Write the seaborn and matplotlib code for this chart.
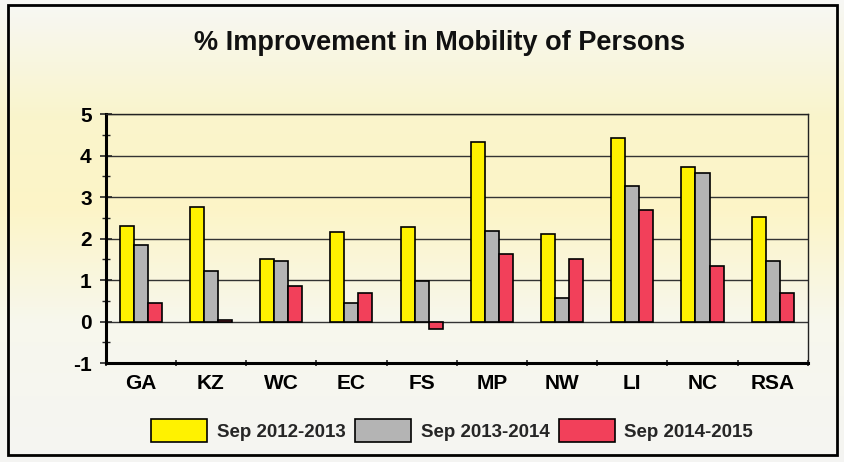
import matplotlib
matplotlib.use("Agg")
import matplotlib.pyplot as plt
import numpy as np
import pandas as pd
import seaborn as sns
from matplotlib.patches import Rectangle, Patch

# Data
regions = ["GA", "KZ", "WC", "EC", "FS", "MP", "NW", "LI", "NC", "RSA"]
periods = ["Sep 2012-2013", "Sep 2013-2014", "Sep 2014-2015"]
sep_2012_2013 = [2.30, 2.75, 1.50, 2.15, 2.28, 4.33, 2.12, 4.42, 3.72, 2.52]
sep_2013_2014 = [1.85, 1.22, 1.45, 0.45, 0.97, 2.18, 0.58, 3.27, 3.58, 1.47]
sep_2014_2015 = [0.45, 0.05, 0.86, 0.68, -0.17, 1.63, 1.52, 2.68, 1.33, 0.68]
colors = ["#FFF200", "#B4B4B4", "#F2405A"]

df = pd.DataFrame({
    "Region": regions * 3,
    "Period": [periods[0]] * 10 + [periods[1]] * 10 + [periods[2]] * 10,
    "Value": sep_2012_2013 + sep_2013_2014 + sep_2014_2015,
})

sns.set_theme(style="white")
plt.rcParams["font.family"] = ["Liberation Sans", "DejaVu Sans"]
plt.rcParams["axes.unicode_minus"] = False

fig = plt.figure(figsize=(8.45, 4.62), dpi=100)
fig.patch.set_facecolor("#F6F6F4")

# Soft yellow background band
bg = fig.add_axes([0, 0, 1, 1], zorder=0)
stops = [0.00, 0.25, 0.45, 0.70, 1.00]
stop_cols = [(0.97, 0.97, 0.96), (0.98, 0.96, 0.80), (0.99, 0.96, 0.78),
             (0.97, 0.97, 0.93), (0.96, 0.96, 0.95)]
ys = np.linspace(0, 1, 200)
img = np.zeros((200, 1, 3))
for c in range(3):
    img[:, 0, c] = np.interp(ys, stops, [col[c] for col in stop_cols])
bg.imshow(img, aspect="auto", extent=[0, 1, 1, 0])
bg.axis("off")

ax = fig.add_axes([0.125, 0.214, 0.831, 0.539], zorder=1)
ax.patch.set_alpha(0)

sns.barplot(data=df, x="Region", y="Value", hue="Period", palette=colors,
            saturation=1, width=0.6, edgecolor="black", linewidth=1.2, ax=ax,
            legend=False, zorder=3)

ax.set_ylim(-1, 5)
ax.set_xlim(-0.5, 9.5)
ax.set_yticks(range(-1, 6))
ax.set_yticks(np.arange(-0.5, 5, 1), minor=True)
ax.yaxis.grid(True, color="#333333", linewidth=1.0, zorder=0)
ax.set_axisbelow(True)
ax.set_xlabel("")
ax.set_ylabel("")

ax.set_xticks(np.arange(-0.5, 10, 1), minor=True)
ax.tick_params(axis="x", which="major", length=0, pad=8)
ax.tick_params(axis="x", which="minor", length=5, width=1.2, direction="inout", bottom=True)
ax.tick_params(axis="y", which="major", length=8, width=1.2, direction="inout", left=True, pad=6)
ax.tick_params(axis="y", which="minor", length=6, width=1.0, direction="inout", left=True)
for lab in ax.get_xticklabels() + ax.get_yticklabels():
    lab.set_fontweight("bold")
    lab.set_fontsize(15)
    lab.set_color("black")

for side in ["left", "bottom"]:
    ax.spines[side].set_linewidth(2.2)
    ax.spines[side].set_color("black")
for side in ["top", "right"]:
    ax.spines[side].set_linewidth(1.0)
    ax.spines[side].set_color("#222222")

fig.text(0.52, 0.908, "% Improvement in Mobility of Persons", ha="center", va="center",
         fontsize=19.5, fontweight="bold", color="#111111")

handles = [Patch(facecolor=c, edgecolor="black", linewidth=1.2, label=p)
           for c, p in zip(colors, periods)]
fig.legend(handles=handles, loc="center", bbox_to_anchor=(0.535, 0.068), ncol=3,
           frameon=False, prop={"weight": "bold", "size": 13.5},
           handlelength=3.0, handleheight=1.5, handletextpad=0.5, columnspacing=0.5)

fig.patches.append(Rectangle((0.01, 0.015), 0.981, 0.974, transform=fig.transFigure,
                             fill=False, edgecolor="black", linewidth=2.0, zorder=10))

plt.savefig("out.png", dpi=100, facecolor=fig.get_facecolor())
plt.close()
